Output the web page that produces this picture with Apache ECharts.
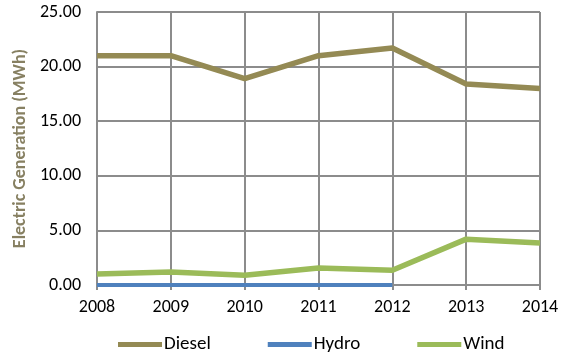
<!DOCTYPE html>
<html>
<head>
<meta charset="utf-8">
<script src="https://cdn.jsdelivr.net/npm/echarts@6/dist/echarts.min.js"></script>
<style>
  html, body { margin: 0; padding: 0; background: #fff; }
  #chart { width: 564px; height: 353px; }
</style>
</head>
<body>
<div id="chart"></div>
<script>
const years = ['2008', '2009', '2010', '2011', '2012', '2013', '2014'];
const diesel = [21.0, 21.0, 18.9, 21.0, 21.7, 18.4, 18.0];
const hydro = [0, 0, 0, 0, 0, null, null];
const wind = [1.0, 1.2, 0.9, 1.55, 1.35, 4.2, 3.85];

const fontFamily = 'Carlito, "Open Sans", "Noto Sans", sans-serif';
const gridColor = '#8c8c8c';

const chart = echarts.init(document.getElementById('chart'));

chart.setOption({
  animation: false,
  textStyle: { fontFamily: fontFamily },
  grid: { left: 97, right: 24, top: 12, bottom: 68 },
  legend: {
    top: 330,
    left: 113,
    itemWidth: 44,
    itemHeight: 5,
    itemGap: 57,
    icon: 'rect',
    textStyle: { fontSize: 19, color: '#000', padding: [0, 0, 0, -3] },
    data: ['Diesel', 'Hydro', 'Wind']
  },
  xAxis: {
    type: 'category',
    data: years,
    boundaryGap: false,
    axisLine: { show: false },
    axisTick: { show: true, length: 5, lineStyle: { color: gridColor, width: 2 } },
    axisLabel: { color: '#000', fontSize: 18, margin: 13 },
    splitLine: { show: true, lineStyle: { color: gridColor, width: 2 } }
  },
  yAxis: {
    type: 'value',
    min: 0,
    max: 25,
    interval: 5,
    name: 'Electric Generation (MWh)',
    nameLocation: 'middle',
    nameGap: 68,
    nameTextStyle: { color: '#878062', fontSize: 18, fontWeight: 'bold' },
    axisLine: { show: true, lineStyle: { color: gridColor, width: 2 } },
    axisTick: { show: false },
    axisLabel: {
      color: '#000',
      fontSize: 18,
      margin: 16,
      formatter: function (v) { return v.toFixed(2); }
    },
    splitLine: { show: true, lineStyle: { color: gridColor, width: 2 } }
  },
  series: [
    {
      name: 'Diesel',
      type: 'line',
      data: diesel,
      symbol: 'none',
      lineStyle: { color: '#948a54', width: 5.5 },
      itemStyle: { color: '#948a54' }
    },
    {
      name: 'Hydro',
      type: 'line',
      data: hydro,
      symbol: 'none',
      z: 3,
      lineStyle: { color: '#4f81bd', width: 4 },
      itemStyle: { color: '#4f81bd' }
    },
    {
      name: 'Wind',
      type: 'line',
      data: wind,
      symbol: 'none',
      lineStyle: { color: '#9bbb59', width: 5.5 },
      itemStyle: { color: '#9bbb59' }
    }
  ]
});
</script>
</body>
</html>
